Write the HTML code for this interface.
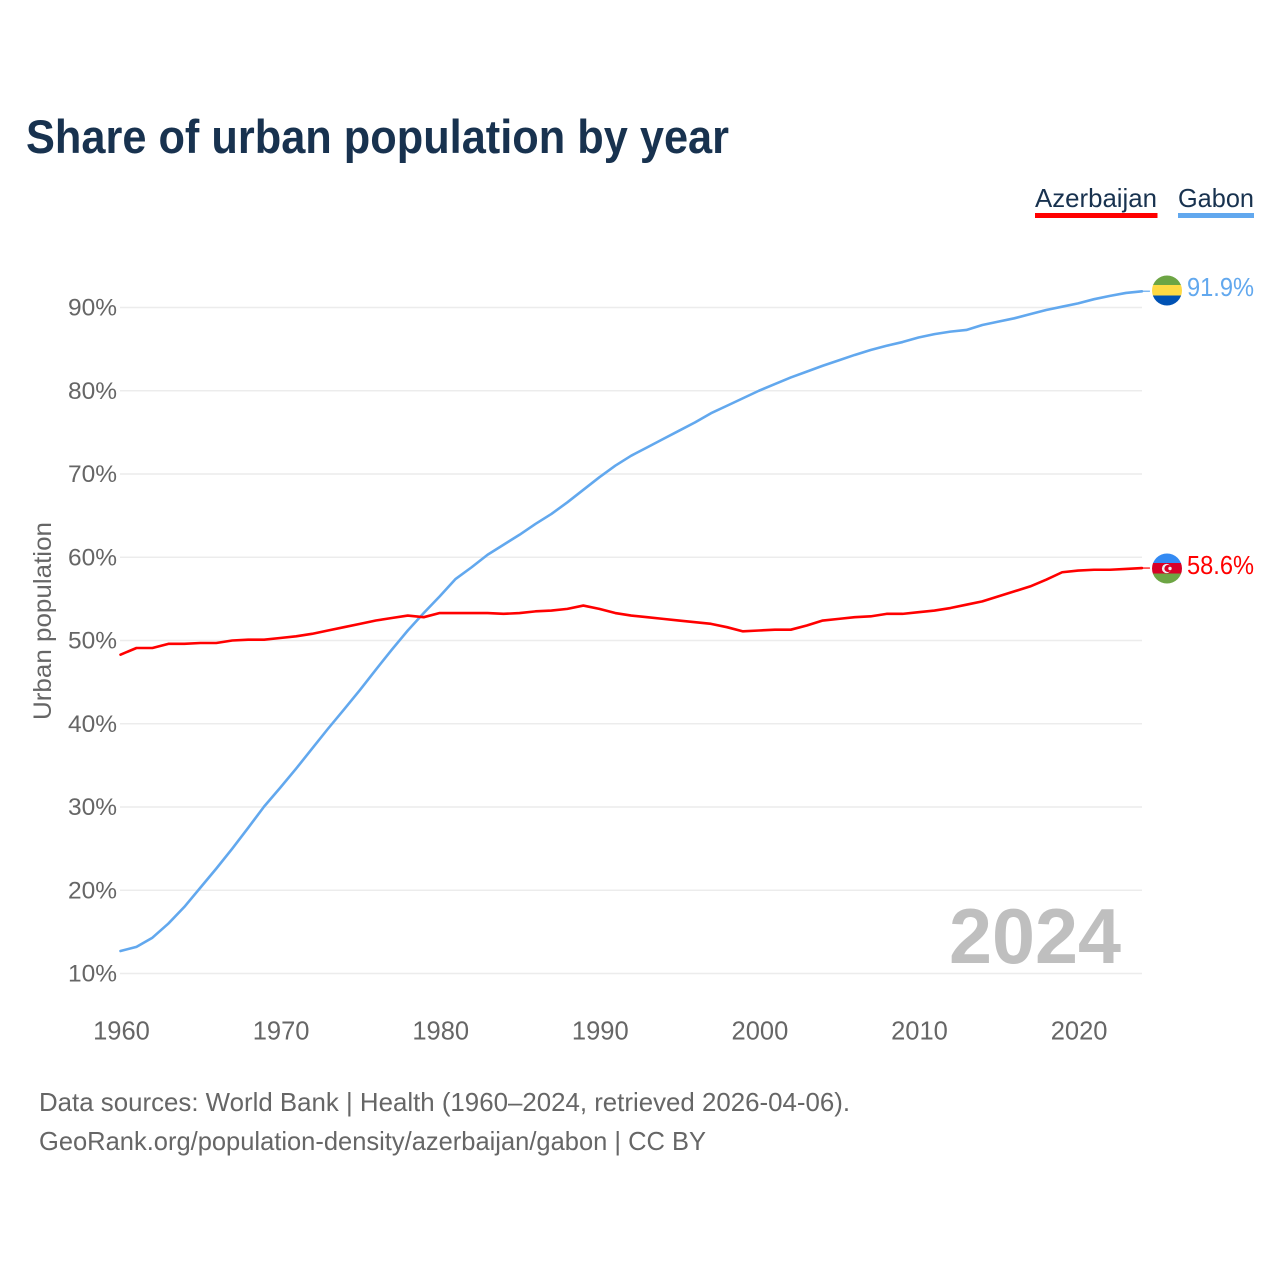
<!DOCTYPE html>
<html lang="en">
<head>
<meta charset="utf-8">
<title>Share of urban population by year</title>
<style>
html,body{margin:0;padding:0;background:#fff;}
svg{display:block;}
text{font-family:"Liberation Sans",Arial,sans-serif;}
</style>
</head>
<body>
<svg id="chart" xmlns="http://www.w3.org/2000/svg" width="1280" height="1280" viewBox="0 0 1280 1280">
  <defs>
    <clipPath id="clip-gabon"><circle cx="1167" cy="290.5" r="15"/></clipPath>
    <clipPath id="clip-azerbaijan"><circle cx="1167" cy="568.5" r="15"/></clipPath>
  </defs>
  <rect width="1280" height="1280" fill="#fff"/>
  <text x="26" y="153" font-size="47" font-weight="700" fill="#18324f" textLength="703" lengthAdjust="spacingAndGlyphs">Share of urban population by year</text>

  <g>
    <g>
      <text x="1035" y="207" font-size="26" fill="#18324f" textLength="122" lengthAdjust="spacingAndGlyphs">Azerbaijan</text>
      <rect x="1035" y="213" width="122.5" height="5" fill="#ff0000"/>
    </g>
    <g>
      <text x="1178" y="207" font-size="26" fill="#18324f" textLength="76" lengthAdjust="spacingAndGlyphs">Gabon</text>
      <rect x="1178" y="213" width="76" height="5" fill="#62a8ee"/>
    </g>
  </g>

  <g id="grid"></g>
  <g id="y-ticks"></g>
  <g id="x-ticks"></g>
  <text transform="translate(51 720) rotate(-90)" font-size="25" fill="#666" textLength="198" lengthAdjust="spacingAndGlyphs">Urban population</text>
  <text x="949" y="963" font-size="78" font-weight="700" fill="#bfbfbf" textLength="172" lengthAdjust="spacingAndGlyphs">2024</text>
  <g id="series"></g>

  <g clip-path="url(#clip-gabon)">
    <rect x="1152" y="275" width="30" height="10.5" fill="#6da544"/>
    <rect x="1152" y="285" width="30" height="11" fill="#ffda44"/>
    <rect x="1152" y="295.5" width="30" height="11" fill="#0052b4"/>
  </g>
  <g clip-path="url(#clip-azerbaijan)">
    <rect x="1152" y="553" width="30" height="10.5" fill="#338af3"/>
    <rect x="1152" y="563" width="30" height="11" fill="#d80027"/>
    <rect x="1152" y="573.5" width="30" height="11" fill="#6da544"/>
    <circle cx="1166.5" cy="568.5" r="4.6" fill="#f0f0f0"/>
    <circle cx="1168" cy="568.5" r="3.6" fill="#d80027"/>
    <circle cx="1170" cy="568.5" r="1.7" fill="#f0f0f0"/>
  </g>
  <text id="end-label-gabon" x="1187" y="296" font-size="25.5" fill="#62a8ee" textLength="67" lengthAdjust="spacingAndGlyphs"></text>
  <text id="end-label-azerbaijan" x="1187" y="574" font-size="25.5" fill="#ff0000" textLength="67" lengthAdjust="spacingAndGlyphs"></text>

  <text x="39" y="1111" font-size="26" fill="#666" textLength="811" lengthAdjust="spacingAndGlyphs">Data sources: World Bank | Health (1960–2024, retrieved 2026-04-06).</text>
  <text x="39" y="1150" font-size="26" fill="#666" textLength="667" lengthAdjust="spacingAndGlyphs">GeoRank.org/population-density/azerbaijan/gabon | CC BY</text>
</svg>
<script>
const startYear = 1960;
const yTickValues = [10, 20, 30, 40, 50, 60, 70, 80, 90];
const xTickValues = [1960, 1970, 1980, 1990, 2000, 2010, 2020];
const azerbaijanValues = [48.3,49.1,49.1,49.6,49.6,49.7,49.7,50.0,50.1,50.1,50.3,50.5,50.8,51.2,51.6,52.0,52.4,52.7,53.0,52.8,53.3,53.3,53.3,53.3,53.2,53.3,53.5,53.6,53.8,54.2,53.8,53.3,53.0,52.8,52.6,52.4,52.2,52.0,51.6,51.1,51.2,51.3,51.3,51.8,52.4,52.6,52.8,52.9,53.2,53.2,53.4,53.6,53.9,54.3,54.7,55.3,55.9,56.5,57.3,58.2,58.4,58.5,58.5,58.6,58.7];
const gabonValues = [12.7,13.2,14.3,16.0,18.0,20.3,22.6,25.0,27.5,30.06,32.3,34.6,37.0,39.4,41.7,44.05,46.5,48.9,51.2,53.3,55.3,57.4,58.8,60.3,61.5,62.7,64.0,65.2,66.6,68.1,69.6,71.0,72.2,73.2,74.2,75.2,76.2,77.3,78.2,79.1,80.0,80.8,81.6,82.3,83.0,83.65,84.3,84.9,85.4,85.85,86.4,86.8,87.1,87.3,87.9,88.3,88.7,89.2,89.7,90.1,90.5,91.0,91.4,91.75,91.95];
const azerbaijanLabel = "58.6%";
const gabonLabel = "91.9%";

const NS = "http://www.w3.org/2000/svg";
function xScale(year) { return 120.5 + (year - 1960) * 15.96; }
function yScale(value) { return 973.5 - (value - 10) * 8.325; }
function make(tag, parent, attrs) {
  const el = document.createElementNS(NS, tag);
  for (const k in attrs) el.setAttribute(k, attrs[k]);
  parent.appendChild(el);
  return el;
}

const grid = document.getElementById("grid");
const yTicks = document.getElementById("y-ticks");
const xTicks = document.getElementById("x-ticks");
const series = document.getElementById("series");

yTickValues.forEach(function (v) {
  const line = make("line", grid, {x1: 120, x2: 1142, y1: yScale(v), y2: yScale(v), stroke: "#ececec", "stroke-width": 1.5});
  
  
  const label = make("text", yTicks, {x: 117, y: yScale(v) + 8, "text-anchor": "end", "font-size": 24.5, fill: "#666"});
  
  
  label.textContent = v + "%";
});

xTickValues.forEach(function (v) {
  const label = make("text", xTicks, {x: xScale(v) + 1, y: 1039.5, "text-anchor": "middle", "font-size": 25.5, fill: "#666"});
  
  
  label.textContent = v;
});

function drawSeries(values, color, name) {
  const pts = values.map(function (v, i) {
    return xScale(startYear + i).toFixed(2) + "," + yScale(v).toFixed(2);
  }).join(" ");
  const line = make("polyline", series, {points: pts, fill: "none", stroke: color, "stroke-width": 2.6, "stroke-linejoin": "round", "stroke-linecap": "round"});
  
  
  const lastY = yScale(values[values.length - 1]);
  const lastX = xScale(startYear + values.length - 1);
  const stub = make("line", series, {x1: lastX, x2: lastX + 8, y1: lastY, y2: lastY, stroke: color, "stroke-width": 1.5, "stroke-opacity": 0.8});
  
  
}
drawSeries(gabonValues, "#62a8ee", "line-gabon");
drawSeries(azerbaijanValues, "#ff0000", "line-azerbaijan");

document.getElementById("end-label-gabon").textContent = gabonLabel;
document.getElementById("end-label-azerbaijan").textContent = azerbaijanLabel;
</script>
</body>
</html>
